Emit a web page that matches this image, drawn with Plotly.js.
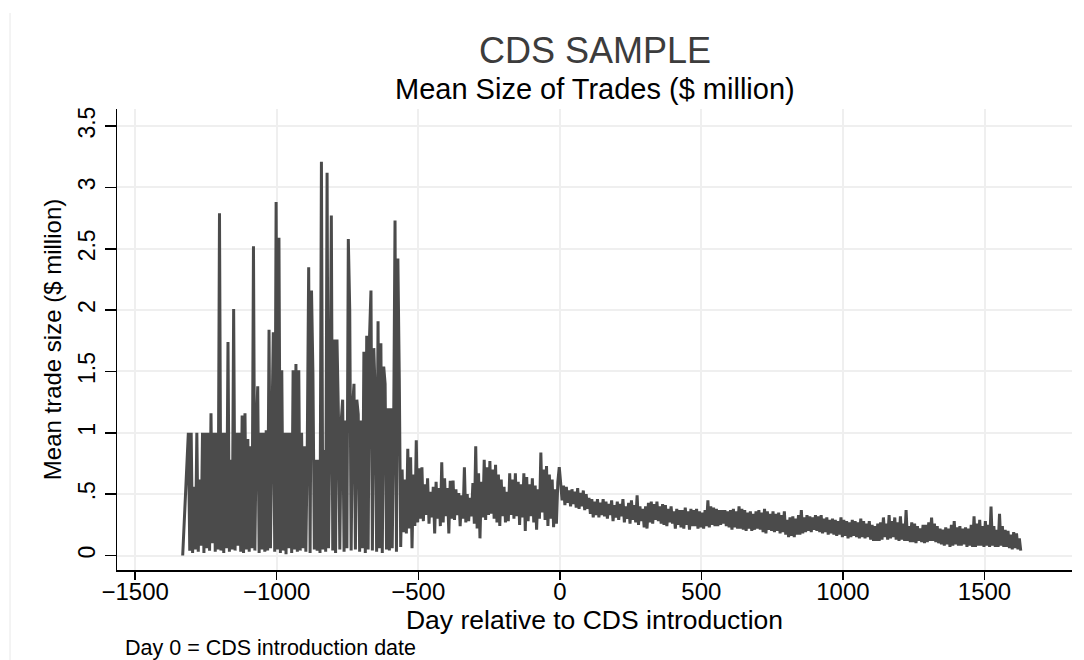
<!DOCTYPE html>
<html>
<head>
<meta charset="utf-8">
<script src="https://cdn.plot.ly/plotly-3.0.1.min.js"></script>
<style>
html,body{margin:0;padding:0;background:#ffffff;}
#chart{width:1084px;height:660px;}
</style>
</head>
<body>
<div id="chart"></div>
<script>
// ---- Data (day relative to CDS introduction, mean trade size in $ million) ----
const firstDay = -1332;
const firstValue = 0.0;
const stepDays = 5;

// Volatile early period: days -1312 .. -562
const earlyStartDay = -1312;
const earlyValues = [
1.0,0.04,1.0,0.02,0.56,0.05,1.0,0.03,0.62,0.08,
1.0,0.02,1.0,0.06,1.0,0.04,1.16,0.1,1.0,0.03,
1.0,0.05,2.79,0.04,1.0,0.02,1.0,0.06,1.74,0.03,
0.78,0.05,2.01,0.04,1.0,0.08,1.0,0.03,1.14,0.02,
1.16,0.05,0.95,0.03,0.89,0.06,2.52,0.04,1.0,1.38,
0.02,1.0,0.05,1.0,0.03,1.02,0.04,1.84,0.06,1.0,
1.82,0.03,2.88,0.05,2.59,0.02,1.51,0.04,1.0,0.01,
1.0,0.06,1.0,0.02,1.51,0.05,1.56,0.03,1.51,0.04,
1.0,0.06,0.89,0.03,0.88,2.35,0.02,2.16,1.48,0.05,
0.78,0.04,0.78,0.02,3.21,0.05,0.86,0.03,3.12,0.06,
1.0,2.77,0.04,1.76,0.02,1.76,1.15,0.05,1.1,1.27,
0.03,1.1,0.06,2.58,2.0,0.04,1.2,1.40,0.05,1.27,
1.15,0.03,1.1,0.06,1.66,0.02,1.79,0.05,1.79,2.16,
0.04,1.69,1.31,0.03,1.91,0.06,1.73,0.02,1.54,1.40,
0.05,1.20,0.04,1.20,0.06,1.0,2.73,0.03,2.42,1.45,
0.07
];

// Pre-introduction period: days -557 .. -2
const lateStartDay = -557;
const lateValues = [
0.70,0.19,0.62,0.18,0.87,0.22,0.80,0.06,0.66,0.24,
0.94,0.27,0.71,0.30,0.72,0.28,0.58,0.33,0.63,0.26,
0.52,0.31,0.56,0.18,0.60,0.30,0.55,0.24,0.76,0.27,
0.63,0.32,0.55,0.18,0.61,0.30,0.61,0.29,0.54,0.33,
0.51,0.24,0.49,0.30,0.72,0.27,0.50,0.28,0.47,0.32,
0.59,0.26,0.89,0.22,0.67,0.14,0.60,0.31,0.78,0.29,
0.72,0.33,0.77,0.34,0.70,0.30,0.74,0.27,0.66,0.24,
0.62,0.32,0.56,0.27,0.52,0.28,0.67,0.33,0.62,0.30,
0.67,0.32,0.60,0.25,0.58,0.31,0.67,0.20,0.64,0.28,
0.58,0.32,0.63,0.27,0.57,0.21,0.54,0.30,0.84,0.35,
0.70,0.29,0.73,0.24,0.66,0.30,0.62,0.23,0.54,0.26,
0.60,0.72
];

// Post-introduction period: days 3 .. 1628
const postStartDay = 3;
const postValues = [
0.59,0.45,0.57,0.41,0.56,0.43,0.53,0.40,0.54,0.42,0.52,0.39,0.55,0.38,0.51,0.40,0.53,0.37,0.50,0.38,
0.47,0.34,0.46,0.31,0.44,0.33,0.46,0.31,0.43,0.33,0.46,0.32,0.44,0.30,0.42,0.33,0.45,0.28,0.41,0.31,
0.44,0.29,0.42,0.32,0.46,0.27,0.40,0.30,0.43,0.26,0.45,0.29,0.41,0.27,0.49,0.25,0.40,0.28,0.38,0.23,
0.40,0.22,0.43,0.27,0.44,0.26,0.42,0.29,0.44,0.28,0.40,0.26,0.42,0.25,0.41,0.24,0.38,0.27,0.40,0.26,
0.36,0.22,0.38,0.25,0.37,0.23,0.37,0.22,0.39,0.25,0.36,0.21,0.38,0.24,0.37,0.24,0.38,0.22,0.36,0.23,
0.35,0.22,0.37,0.24,0.45,0.23,0.40,0.25,0.39,0.24,0.38,0.24,0.37,0.25,0.37,0.26,0.37,0.24,0.36,0.23,
0.37,0.21,0.38,0.23,0.36,0.22,0.40,0.22,0.38,0.21,0.37,0.20,0.35,0.22,0.36,0.20,0.34,0.21,0.36,0.22,
0.37,0.21,0.35,0.19,0.38,0.18,0.36,0.21,0.34,0.20,0.36,0.19,0.34,0.20,0.35,0.18,0.33,0.19,0.36,0.17,
0.29,0.15,0.31,0.16,0.32,0.15,0.30,0.17,0.33,0.17,0.37,0.18,0.31,0.19,0.33,0.20,0.32,0.19,0.31,0.21,
0.33,0.20,0.32,0.19,0.33,0.18,0.30,0.19,0.31,0.17,0.29,0.18,0.30,0.17,0.29,0.16,0.28,0.17,0.31,0.15,
0.29,0.16,0.28,0.14,0.27,0.15,0.29,0.16,0.28,0.15,0.27,0.14,0.30,0.15,0.28,0.14,0.26,0.15,0.28,0.13,
0.25,0.12,0.24,0.12,0.26,0.12,0.27,0.13,0.31,0.15,0.26,0.13,0.33,0.14,0.28,0.15,0.31,0.13,0.27,0.12,
0.32,0.13,0.26,0.12,0.37,0.12,0.24,0.11,0.27,0.11,0.26,0.10,0.24,0.12,0.22,0.11,0.25,0.10,0.25,0.11,
0.27,0.12,0.31,0.12,0.26,0.11,0.24,0.10,0.22,0.09,0.21,0.08,0.23,0.09,0.22,0.07,0.25,0.08,0.28,0.09,
0.23,0.08,0.24,0.08,0.22,0.09,0.23,0.07,0.22,0.08,0.25,0.07,0.32,0.07,0.26,0.08,0.29,0.08,0.24,0.07,
0.28,0.08,0.25,0.07,0.40,0.08,0.24,0.07,0.21,0.07,0.34,0.08,0.24,0.07,0.21,0.07,0.20,0.06,0.17,0.05,
0.19,0.06,0.18,0.05,0.14,0.04
];

// Axis ticks
const xTickVals = [-1500, -1000, -500, 0, 500, 1000, 1500];
const xTickText = ['\u22121500', '\u22121000', '\u2212500', '0', '500', '1000', '1500'];
const yTickVals = [0, 0.5, 1, 1.5, 2, 2.5, 3, 3.5];
const yTickText = ['0', '.5', '1', '1.5', '2', '2.5', '3', '3.5'];

// Texts
const chartTitle = 'CDS SAMPLE';
const chartSubtitle = 'Mean Size of Trades ($ million)';
const xTitle = 'Day relative to CDS introduction';
const yTitle = 'Mean trade size ($ million)';
const noteText = 'Day 0 = CDS introduction date';

// ---- Build series ----
const days = [firstDay];
const sizes = [firstValue];
function addSegment(startDay, values) {
  values.forEach(function (v, i) { days.push(startDay + i * stepDays); sizes.push(v); });
}
addSegment(earlyStartDay, earlyValues);
addSegment(lateStartDay, lateValues);
addSegment(postStartDay, postValues);

const FONT = 'Liberation Sans, Arial, Helvetica, sans-serif';

const trace = {
  x: days, y: sizes, type: 'scatter', mode: 'lines',
  line: {color: '#4b4b4b', width: 3},
  hoverinfo: 'skip', showlegend: false
};

const layout = {
  width: 1084, height: 660,
  margin: {l: 117, r: 12, t: 109, b: 90, pad: 0},
  paper_bgcolor: '#ffffff', plot_bgcolor: '#ffffff',
  font: {family: FONT, color: '#000000'},
  showlegend: false,
  xaxis: {
    range: [-1564, 1809], tickvals: xTickVals, ticktext: xTickText,
    ticks: 'outside', ticklen: 8, tickwidth: 1.5, tickcolor: '#000000',
    ticklabelstandoff: -8,
    showline: true, linecolor: '#000000', linewidth: 1.5,
    showgrid: true, gridcolor: '#efefef', gridwidth: 2, zeroline: false,
    tickfont: {size: 24, color: '#000000', family: FONT},
    title: {text: xTitle, font: {size: 26.5, color: '#000000', family: FONT}, standoff: 0},
    fixedrange: true
  },
  yaxis: {
    range: [-0.118, 3.639], tickvals: yTickVals, ticktext: yTickText, tickangle: -90,
    ticks: 'outside', ticklen: 11, tickwidth: 1.5, tickcolor: '#000000',
    showline: true, linecolor: '#000000', linewidth: 1.5,
    showgrid: true, gridcolor: '#efefef', gridwidth: 2, zeroline: false,
    tickfont: {size: 23, color: '#000000', family: FONT},
    title: {text: yTitle, font: {size: 24, color: '#000000', family: FONT}, standoff: 6},
    fixedrange: true
  },
  annotations: [
    {text: chartTitle, xref: 'paper', yref: 'paper', x: 0.5, y: 1.126, xanchor: 'center', yanchor: 'middle',
     showarrow: false, font: {size: 36, color: '#3c3c3c', family: FONT}},
    {text: chartSubtitle, xref: 'paper', yref: 'paper', x: 0.5, y: 1.044, xanchor: 'center', yanchor: 'middle',
     showarrow: false, font: {size: 29, color: '#000000', family: FONT}},
    {text: noteText, xref: 'paper', yref: 'paper', x: 0.0063, y: -0.169, xanchor: 'left', yanchor: 'middle',
     showarrow: false, font: {size: 21.5, color: '#000000', family: FONT}}
  ],
  shapes: [
    {type: 'line', xref: 'paper', yref: 'paper', x0: -0.112, x1: -0.112, y0: 1.208, y1: -0.2,
     line: {color: '#f0f0f0', width: 1.5}}
  ]
};

Plotly.newPlot('chart', [trace], layout, {displayModeBar: false, staticPlot: true});
</script>
</body>
</html>
